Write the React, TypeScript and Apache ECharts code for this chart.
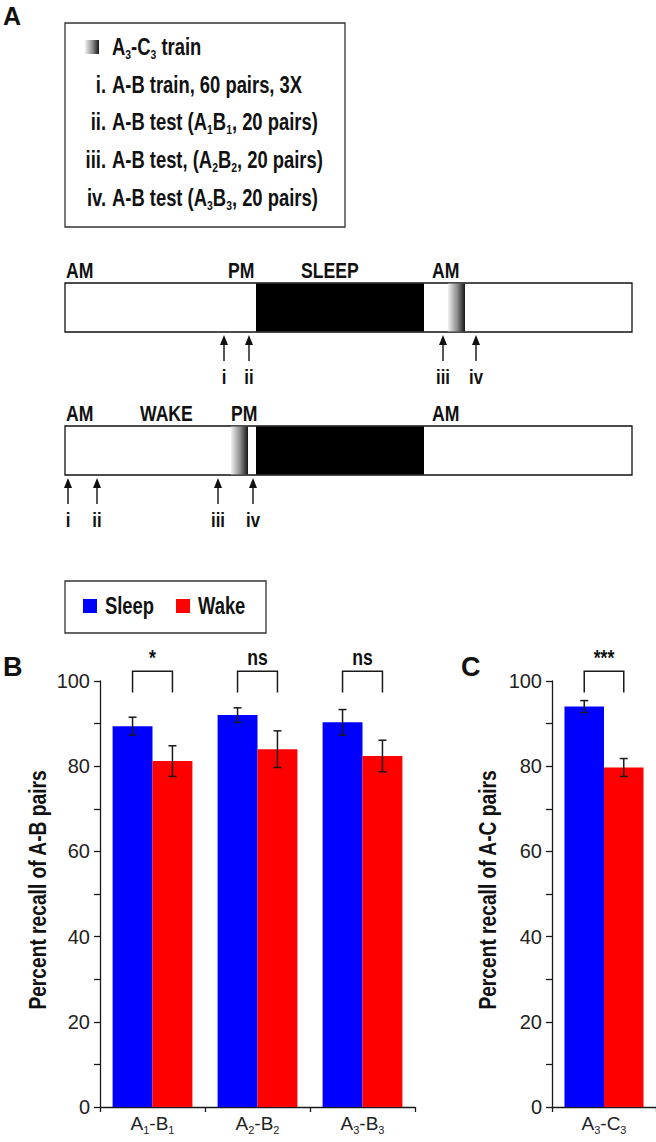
import React, { useEffect, useRef } from 'react';
import * as echarts from 'echarts';

const SANS = "'Liberation Sans', Arial, sans-serif";
const NARROW_SCALE = 0.8;

// ---- data (panel B) ----
const abCategories = ['A_1-B_1', 'A_2-B_2', 'A_3-B_3'];
const abSleep = [89.4, 92.0, 90.3];
const abSleepErr = [2.1, 1.7, 3.0];
const abWake = [81.2, 84.0, 82.4];
const abWakeErr = [3.6, 4.3, 3.7];
const abSig = ['*', 'ns', 'ns'];

// ---- data (panel C) ----
const acCategories = ['A_3-C_3'];
const acSleep = [94.0];
const acSleepErr = [1.4];
const acWake = [79.7];
const acWakeErr = [2.1];
const acSig = ['***'];

const yMin = 0;
const yMax = 100;
const yInterval = 20;
const bracketLow = 97.3;
const bracketHigh = 102.3;
const sigLabelValue = 105.6;

const seriesNames = ['Sleep', 'Wake'];
const seriesColors = ['#0000ff', '#ff0000'];

// ---- panel A text ----
const protocolNumerals = ['', 'i.', 'ii.', 'iii.', 'iv.'];
const protocolTexts = [
  'A_3-C_3 train',
  'A-B train, 60 pairs, 3X',
  'A-B test (A_1B_1, 20 pairs)',
  'A-B test, (A_2B_2, 20 pairs)',
  'A-B test (A_3B_3, 20 pairs)',
];
const timeline1Labels = ['AM', 'PM', 'SLEEP', 'AM'];
const timeline2Labels = ['AM', 'WAKE', 'PM', 'AM'];
const arrowLabels = ['i', 'ii', 'iii', 'iv'];

// layout (pixels)
const T1_LABEL_X = [66, 228, 301, 432];
const T2_LABEL_X = [66, 140, 231, 432];
const T1_ARROW_X = [224, 249, 443, 476];
const T2_ARROW_X = [68, 97, 218, 253];
const TL_LEFT = 65;
const TL_RIGHT = 632;
const TL_H = 49;
const T1_TOP = 283;
const T2_TOP = 426;
const SLEEP_X = [256, 424];
const T1_GRAD = [448, 465];
const T2_GRAD = [231, 248];

const BAR_GAP = 0.24;

const toRich = (s: string) =>
  s
    .split(/_(\d)/)
    .map((p, i) => (p === '' ? '' : i % 2 === 1 ? `{s|${p}}` : `{m|${p}}`))
    .join('');

const gradFill = {
  type: 'linear',
  x: 0,
  y: 0,
  x2: 1,
  y2: 0,
  colorStops: [
    { offset: 0, color: '#f2f2f2' },
    { offset: 0.55, color: '#8a8a8a' },
    { offset: 1, color: '#151515' },
  ],
};

const boldText = (text: string, x: number, y: number, size: number, align = 'left', sx = NARROW_SCALE) => ({
  type: 'text',
  x,
  y,
  scaleX: sx,
  style: {
    text,
    fontSize: size,
    fontWeight: 'bold',
    fontFamily: SANS,
    fill: '#111',
    textAlign: align,
    textVerticalAlign: 'middle',
  },
});

function buildGraphics() {
  const g: any[] = [];
  // panel letters
  g.push(boldText('A', 3, 16, 25, 'left', 1));
  g.push(boldText('B', 3, 667, 27, 'left', 1));
  g.push(boldText('C', 461, 667, 27, 'left', 1));

  // protocol box
  g.push({
    type: 'rect',
    shape: { x: 65, y: 23, width: 280, height: 204 },
    style: { fill: '#fff', stroke: '#333', lineWidth: 1.3 },
  });
  g.push({ type: 'rect', shape: { x: 85, y: 40, width: 14, height: 14 }, style: { fill: gradFill } });
  const lineY = [47, 85, 122, 160, 198];
  protocolTexts.forEach((t, i) => {
    if (protocolNumerals[i]) g.push(boldText(protocolNumerals[i], 106, lineY[i], 23, 'right'));
    g.push({
      type: 'text',
      x: 112,
      y: lineY[i],
      scaleX: NARROW_SCALE,
      style: {
        text: toRich(t),
        fill: '#111',
        textAlign: 'left',
        textVerticalAlign: 'middle',
        rich: {
          m: { fontSize: 23, fontWeight: 'bold', fontFamily: SANS, fill: '#111', lineHeight: 22 },
          s: { fontSize: 13, fontWeight: 'bold', fontFamily: SANS, fill: '#111', lineHeight: 22, padding: [15, 0, 0, 0] },
        },
      },
    });
  });

  const timeline = (top: number, labels: string[], labelX: number[], grad: number[], arrowX: number[]) => {
    labels.forEach((l, i) => g.push(boldText(l, labelX[i], top - 13, 22)));
    g.push({
      type: 'rect',
      shape: { x: TL_LEFT, y: top, width: TL_RIGHT - TL_LEFT, height: TL_H },
      style: { fill: '#fff', stroke: '#111', lineWidth: 1.3 },
    });
    g.push({
      type: 'rect',
      shape: { x: SLEEP_X[0], y: top + 0.6, width: SLEEP_X[1] - SLEEP_X[0], height: TL_H - 1.2 },
      style: { fill: '#000' },
    });
    g.push({
      type: 'rect',
      shape: { x: grad[0], y: top + 0.6, width: grad[1] - grad[0], height: TL_H - 1.2 },
      style: { fill: gradFill },
    });
    const tip = top + TL_H + 3;
    arrowLabels.forEach((l, i) => {
      const x = arrowX[i];
      g.push({ type: 'line', shape: { x1: x, y1: tip + 6, x2: x, y2: tip + 26 }, style: { stroke: '#111', lineWidth: 1.4 } });
      g.push({ type: 'polygon', shape: { points: [[x, tip], [x - 4, tip + 10], [x + 4, tip + 10]] }, style: { fill: '#111' } });
      g.push(boldText(l, x, tip + 42, 21, 'center'));
    });
  };
  timeline(T1_TOP, timeline1Labels, T1_LABEL_X, T1_GRAD, T1_ARROW_X);
  timeline(T2_TOP, timeline2Labels, T2_LABEL_X, T2_GRAD, T2_ARROW_X);

  // series legend box
  g.push({
    type: 'rect',
    shape: { x: 65, y: 581, width: 201, height: 52 },
    style: { fill: '#fff', stroke: '#333', lineWidth: 1.3 },
  });
  const legX = [83, 176];
  seriesNames.forEach((n, i) => {
    g.push({ type: 'rect', shape: { x: legX[i], y: 599, width: 14, height: 14 }, style: { fill: seriesColors[i] } });
    g.push(boldText(n, legX[i] + 22, 606, 23, 'left'));
  });

  // y axis titles
  const yTitle = (text: string, x: number) => ({
    type: 'text',
    x,
    y: 890,
    rotation: Math.PI / 2,
    scaleX: NARROW_SCALE,
    style: {
      text,
      fontSize: 24,
      fontWeight: 'bold',
      fontFamily: SANS,
      fill: '#111',
      textAlign: 'center',
      textVerticalAlign: 'middle',
    },
  });
  g.push(yTitle('Percent recall of A-B pairs', 38));
  g.push(yTitle('Percent recall of A-C pairs', 488));
  return g;
}

const errorRender = (params: any, api: any) => {
  const cat = api.value(0);
  const mean = api.value(1);
  const err = api.value(2);
  const side = api.value(3);
  const band = api.size([1, 0])[0];
  const barW = (band * (1 - BAR_GAP)) / 2;
  const cx = api.coord([cat, mean])[0] + (side * barW) / 2;
  const yTop = api.coord([cat, mean + err])[1];
  const yBot = api.coord([cat, mean - err])[1];
  const cap = 4;
  const style = { stroke: '#1a1a1a', lineWidth: 1.5 };
  return {
    type: 'group',
    children: [
      { type: 'line', shape: { x1: cx, y1: yTop, x2: cx, y2: yBot }, style },
      { type: 'line', shape: { x1: cx - cap, y1: yTop, x2: cx + cap, y2: yTop }, style },
      { type: 'line', shape: { x1: cx - cap, y1: yBot, x2: cx + cap, y2: yBot }, style },
    ],
  };
};

const bracketRender = (sig: string[]) => (params: any, api: any) => {
  const cat = api.value(0);
  const low = api.value(1);
  const high = api.value(2);
  const labelV = api.value(3);
  const band = api.size([1, 0])[0];
  const barW = (band * (1 - BAR_GAP)) / 2;
  const c = api.coord([cat, low]);
  const xl = c[0] - barW / 2;
  const xr = c[0] + barW / 2;
  const yl = c[1];
  const yh = api.coord([cat, high])[1];
  const yt = api.coord([cat, labelV])[1];
  return {
    type: 'group',
    children: [
      {
        type: 'polyline',
        shape: { points: [[xl, yl], [xl, yh], [xr, yh], [xr, yl]] },
        style: { stroke: '#1a1a1a', lineWidth: 1.5, fill: 'none' },
      },
      {
        type: 'text',
        x: c[0],
        y: yt,
        scaleX: NARROW_SCALE,
        style: {
          text: sig[params.dataIndex],
          fontSize: 22,
          fontWeight: 'bold',
          fontFamily: SANS,
          fill: '#111',
          textAlign: 'center',
          textVerticalAlign: 'middle',
        },
      },
    ],
  };
};

const axisColor = '#1a1a1a';
const richLabel = {
  m: { fontSize: 19, fontFamily: SANS, color: '#222', lineHeight: 20 },
  s: { fontSize: 11, fontFamily: SANS, color: '#222', lineHeight: 20, padding: [13, 0, 0, 0] },
};

const makeX = (gridIndex: number, data: string[]) => ({
  type: 'category',
  gridIndex,
  data,
  boundaryGap: true,
  axisLine: { lineStyle: { color: axisColor, width: 1.3 } },
  axisTick: { show: true, length: 5, inside: false, lineStyle: { color: axisColor, width: 1.3 } },
  axisLabel: { margin: 6, interval: 0, formatter: (v: string) => toRich(v), rich: richLabel },
});

const makeY = (gridIndex: number) => ({
  type: 'value',
  gridIndex,
  min: yMin,
  max: yMax,
  interval: yInterval,
  axisLine: { show: true, lineStyle: { color: axisColor, width: 1.3 } },
  axisTick: { show: true, length: 6, inside: false, lineStyle: { color: axisColor, width: 1.3 } },
  minorTick: { show: true, splitNumber: 2, length: 6, lineStyle: { color: axisColor, width: 1.3 } },
  splitLine: { show: false },
  minorSplitLine: { show: false },
  axisLabel: { margin: 10, fontFamily: SANS, fontSize: 20, color: '#222' },
});

export default function App() {
  const ref = useRef<HTMLDivElement>(null);
  useEffect(() => {
    if (!ref.current) return;
    const chart = echarts.init(ref.current, undefined, { renderer: 'svg' });
    const abIdx = abCategories.map((_, i) => i);
    const acIdx = acCategories.map((_, i) => i);
    const barBase = { type: 'bar', barGap: '0%', barCategoryGap: '24%' };
    chart.setOption({
      animation: false,
      backgroundColor: '#fff',
      grid: [
        { left: 100, right: 241, top: 681, bottom: 35 },
        { left: 552, right: 0, top: 681, bottom: 35 },
      ],
      xAxis: [makeX(0, abCategories), makeX(1, acCategories)],
      yAxis: [makeY(0), makeY(1)],
      graphic: buildGraphics(),
      series: [
        { ...barBase, name: seriesNames[0], xAxisIndex: 0, yAxisIndex: 0, data: abSleep, itemStyle: { color: seriesColors[0] } },
        { ...barBase, name: seriesNames[1], xAxisIndex: 0, yAxisIndex: 0, data: abWake, itemStyle: { color: seriesColors[1] } },
        { ...barBase, name: seriesNames[0], xAxisIndex: 1, yAxisIndex: 1, data: acSleep, itemStyle: { color: seriesColors[0] } },
        { ...barBase, name: seriesNames[1], xAxisIndex: 1, yAxisIndex: 1, data: acWake, itemStyle: { color: seriesColors[1] } },
        {
          type: 'custom', xAxisIndex: 0, yAxisIndex: 0, z: 5, renderItem: errorRender,
          encode: { x: 0, y: 1 },
          data: [
            ...abIdx.map((i) => [i, abSleep[i], abSleepErr[i], -1]),
            ...abIdx.map((i) => [i, abWake[i], abWakeErr[i], 1]),
          ],
        },
        {
          type: 'custom', xAxisIndex: 1, yAxisIndex: 1, z: 5, renderItem: errorRender,
          encode: { x: 0, y: 1 },
          data: [
            ...acIdx.map((i) => [i, acSleep[i], acSleepErr[i], -1]),
            ...acIdx.map((i) => [i, acWake[i], acWakeErr[i], 1]),
          ],
        },
        {
          type: 'custom', xAxisIndex: 0, yAxisIndex: 0, z: 5, renderItem: bracketRender(abSig),
          encode: { x: 0, y: 1 },
          data: abIdx.map((i) => [i, bracketLow, bracketHigh, sigLabelValue]),
        },
        {
          type: 'custom', xAxisIndex: 1, yAxisIndex: 1, z: 5, renderItem: bracketRender(acSig),
          encode: { x: 0, y: 1 },
          data: acIdx.map((i) => [i, bracketLow, bracketHigh, sigLabelValue]),
        },
      ],
    });
    return () => chart.dispose();
  }, []);
  return <div ref={ref} style={{ position: 'absolute', left: 0, top: 0, width: 656, height: 1142 }} />;
}
